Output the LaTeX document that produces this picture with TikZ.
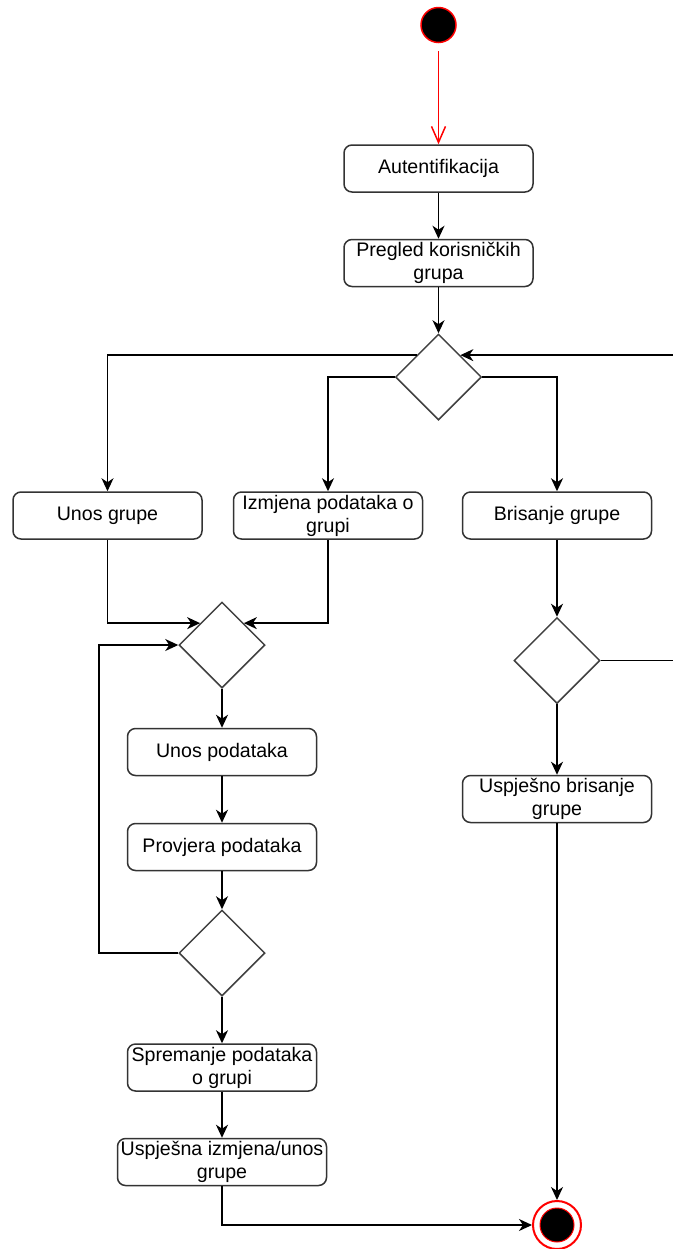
\documentclass[tikz,border=0pt]{standalone}
\usepackage{fontspec}
\setmainfont{Liberation Sans}
\usepackage{tikz}
\usetikzlibrary{arrows.meta}
\usetikzlibrary{shapes.geometric}
\usetikzlibrary{positioning}

\begin{document}
\begin{tikzpicture}[x=0.5pt, y=-0.5pt,
	activity/.style={rectangle, rounded corners=4pt, draw=black!80, line width=0.75pt,
	                 minimum width=94.5pt, minimum height=23.5pt, inner sep=1pt,
	                 align=center, font=\fontsize{9.8}{11.5}\selectfont},
	choice/.style={diamond, draw=black!75, line width=0.75pt, minimum width=43pt,
	               minimum height=43pt, inner sep=0pt},
	flow/.style={draw=black, line width=0.75pt, ->},
	>={Stealth[length=6.5pt, width=6pt, inset=2pt]}]
	\useasboundingbox (0,0) rectangle (673,1249);

	% start and end
	\node[circle, fill=black, draw=red, line width=0.75pt, minimum size=17.5pt, inner sep=0pt] (start) at (438.5,25) {};
	\node[circle, fill=white, draw=red, line width=1pt, minimum size=24pt, inner sep=0pt] (endo) at (557,1225) {};
	\node[circle, fill=black, draw=red, line width=0.5pt, minimum size=17pt, inner sep=0pt] (endi) at (557,1225) {};

	\begin{scope}[every node/.style={activity}]
		\node (auth) at (438.5,168.5) {Autentifikacija};
		\node (pregled) at (438.5,263) {Pregled korisničkih\\grupa};
		\node (unosg) at (107.5,515.5) {Unos grupe};
		\node (izmj) at (328,515.5) {Izmjena podataka o\\grupi};
		\node (bris) at (557,515.5) {Brisanje grupe};
		\node (unosp) at (222,752) {Unos podataka};
		\node (provj) at (222,847) {Provjera podataka};
		\node (sprem) at (222,1067.5) {Spremanje podataka\\o grupi};
		\node[minimum width=104.5pt] (uspiz) at (222,1162) {Uspješna izmjena/unos\\grupe};
		\node (uspbr) at (557,799) {Uspješno brisanje\\grupe};
	\end{scope}

	\begin{scope}[every node/.style={choice}]
		\node (d1) at (438.5,377) {};
		\node (d2) at (222,645) {};
		\node (d3) at (222,953) {};
		\node (d4) at (557,660.5) {};
	\end{scope}

	\coordinate (rim) at (677,0);
	\coordinate (loop) at (99,0);

	\draw[red, line width=0.75pt, -{Straight Barb[length=8pt, width=7pt]}, shorten <=4pt] (start) -- (auth);

	\begin{scope}[every path/.style={flow}]
		\path (auth) edge (pregled);
		\path (pregled) edge (d1);
		\draw (d1.north west) -| (unosg.north);
		\draw (d1.west) -| (izmj.north);
		\draw (d1.east) -| (bris.north);
		\path (bris) edge (d4);
		\path (d4) edge (uspbr);
		\draw (d4.east) -- (d4.east -| rim) |- (d1.north east);
		\draw (uspbr.south) -- (endo.north);
		\draw (unosg.south) |- (d2.north west);
		\draw (izmj.south) |- (d2.north east);
		\path (d2) edge (unosp);
		\path (unosp) edge (provj);
		\path (provj) edge (d3);
		\draw (d3.west) -- (d3.west -| loop) |- (d2.west);
		\path (d3) edge (sprem);
		\path (sprem) edge (uspiz);
		\draw (uspiz.south) |- (endo.west);
	\end{scope}
\end{tikzpicture}
\end{document}
